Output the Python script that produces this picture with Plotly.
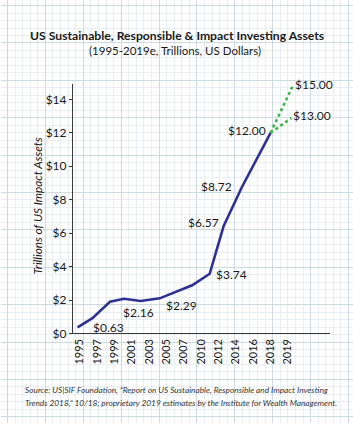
import plotly.graph_objects as go

# ---- data ----
tick_years = ["1995", "1997", "1999", "2001", "2003", "2005", "2007",
              "2010", "2012", "2014", "2016", "2018", "2019"]
# line vertices: position along the category axis (0 = 1995 slot) and value ($T)
hist_pos = [-0.13, 0.73, 1.74, 2.55, 3.51, 4.61, 6.48, 7.49, 8.29, 9.35, 11.0]
hist_val = [0.37, 0.92, 1.90, 2.08, 1.94, 2.10, 2.88, 3.57, 6.41, 8.76, 12.0]
high_pos = [11.0, 12.3]
high_val = [12.0, 14.85]
low_pos = [11.0, 12.2]
low_val = [12.0, 12.88]
label_text = ["$0.63", "$2.16", "$2.29", "$3.74", "$6.57", "$8.72", "$12.00"]
label_idx = [1, 3, 6, 7, 8, 9, 10]
y_ticks = [0, 2, 4, 6, 8, 10, 12, 14]
y_tick_text = ["$0", "$2", "$4", "$6", "$8", "$10", "$12", "$14"]

W, H = 353, 430
FONT = "Lato"
NAVY = "#2e3192"
GREEN = "#3cb54a"

fig = go.Figure()

# background "graph paper" subplot (xy)
fig.add_trace(go.Scatter(x=[None], y=[None], xaxis="x", yaxis="y",
                         showlegend=False, hoverinfo="skip"))

# chart subplot (x2y2)
fig.add_trace(go.Scatter(x=hist_pos, y=hist_val, xaxis="x2", yaxis="y2",
                         mode="lines", line=dict(color=NAVY, width=2.6),
                         showlegend=False))
fig.add_trace(go.Scatter(x=high_pos, y=high_val, xaxis="x2", yaxis="y2",
                         mode="lines", line=dict(color=GREEN, width=2.6, dash="dot"),
                         showlegend=False))
fig.add_trace(go.Scatter(x=low_pos, y=low_val, xaxis="x2", yaxis="y2",
                         mode="lines", line=dict(color=GREEN, width=2.6, dash="dot"),
                         showlegend=False))

# data labels (offsets in px)
offsets = [("left", "top", -1, 0),
           ("left", "top", -3, -4),
           ("right", "top", 7, -11),
           ("left", "middle", 4, -1),
           ("right", "middle", -3, 4),
           ("right", "middle", -8, 0),
           ("right", "middle", -3, 2)]
LBL = dict(family=FONT, size=12, color="#1a1a1a")
ann = []
for t, i, (xa, ya, xs, ys) in zip(label_text, label_idx, offsets):
    ann.append(dict(x=hist_pos[i], y=hist_val[i], xref="x2", yref="y2",
                    text=t, showarrow=False, xanchor=xa, yanchor=ya,
                    xshift=xs, yshift=ys, font=LBL))
ann.append(dict(x=high_pos[-1], y=high_val[-1], xref="x2", yref="y2",
                text="$15.00", showarrow=False, xanchor="left", yanchor="middle",
                xshift=0, yshift=1, font=LBL))
ann.append(dict(x=low_pos[-1], y=low_val[-1], xref="x2", yref="y2",
                text="$13.00", showarrow=False, xanchor="left", yanchor="middle",
                xshift=0, yshift=3, font=LBL))

# titles
ann.append(dict(x=176 / W, y=1 - 36 / H, xref="paper", yref="paper",
                text="<b>US Sustainable, Responsible &amp; Impact Investing Assets</b>",
                showarrow=False, xanchor="center", yanchor="middle",
                font=dict(family=FONT, size=12.2, color="#1a1a1a")))
ann.append(dict(x=174 / W, y=1 - 51 / H, xref="paper", yref="paper",
                text="(1995-2019e, Trillions, US Dollars)",
                showarrow=False, xanchor="center", yanchor="middle",
                font=dict(family=FONT, size=11.5, color="#1a1a1a")))
ann.append(dict(x=37 / W, y=1 - 209 / H, xref="paper", yref="paper",
                text="<i>Trillions of US Impact Assets</i>", textangle=-90,
                showarrow=False, xanchor="center", yanchor="middle",
                font=dict(family=FONT, size=11.8, color="#1a1a1a")))
ann.append(dict(x=22 / W, y=1 - 396 / H, xref="paper", yref="paper",
                text="<i>Source: US|SIF Foundation, \u201cReport on US Sustainable, Responsible and Impact Investing</i>",
                showarrow=False, xanchor="left", yanchor="middle",
                font=dict(family=FONT, size=8.3, color="#333333")))
ann.append(dict(x=22 / W, y=1 - 410 / H, xref="paper", yref="paper",
                text="<i>Trends 2018,\u201d 10/18; proprietary 2019 estimates by the Institute for Wealth Management.</i>",
                showarrow=False, xanchor="left", yanchor="middle",
                font=dict(family=FONT, size=8.3, color="#333333")))

AXC = "#3a3a3a"
fig.update_layout(
    width=W, height=H,
    margin=dict(l=0, r=0, t=0, b=0),
    paper_bgcolor="white",
    plot_bgcolor="rgba(0,0,0,0)",
    annotations=ann,
    showlegend=False,
    # graph paper axes
    xaxis=dict(domain=[0, 1], range=[0, W], showticklabels=False, zeroline=False,
               showgrid=True, gridcolor="#cddbe1", gridwidth=1,
               tick0=6.5, dtick=38, fixedrange=True,
               minor=dict(showgrid=True, tick0=6.5, dtick=7.6, gridcolor="#e8eef1", gridwidth=1)),
    yaxis=dict(domain=[0, 1], range=[H, 0], showticklabels=False, zeroline=False,
               showgrid=True, gridcolor="#cddbe1", gridwidth=1,
               tick0=5.7, dtick=38, fixedrange=True,
               minor=dict(showgrid=True, tick0=5.7, dtick=7.6, gridcolor="#e8eef1", gridwidth=1)),
    # chart axes
    xaxis2=dict(domain=[72.3 / W, 330 / W], anchor="y2",
                range=[-0.385, 14.43], showgrid=False, zeroline=False,
                showline=True, linecolor=AXC, linewidth=1.3,
                tickmode="array", tickvals=list(range(len(tick_years))),
                ticktext=tick_years, tickangle=-90, ticks="",
                tickfont=dict(family=FONT, size=11, color="#1a1a1a")),
    yaxis2=dict(domain=[1 - 339 / H, 1 - 85 / H], anchor="x2",
                range=[0, 14.94], showgrid=False, zeroline=False,
                showline=True, linecolor=AXC, linewidth=1.3,
                tickmode="array", tickvals=y_ticks, ticktext=y_tick_text,
                ticks="outside", ticklen=3, tickcolor=AXC, tickwidth=1,
                tickfont=dict(family=FONT, size=12, color="#1a1a1a")),
)

fig.write_html("out.html")
